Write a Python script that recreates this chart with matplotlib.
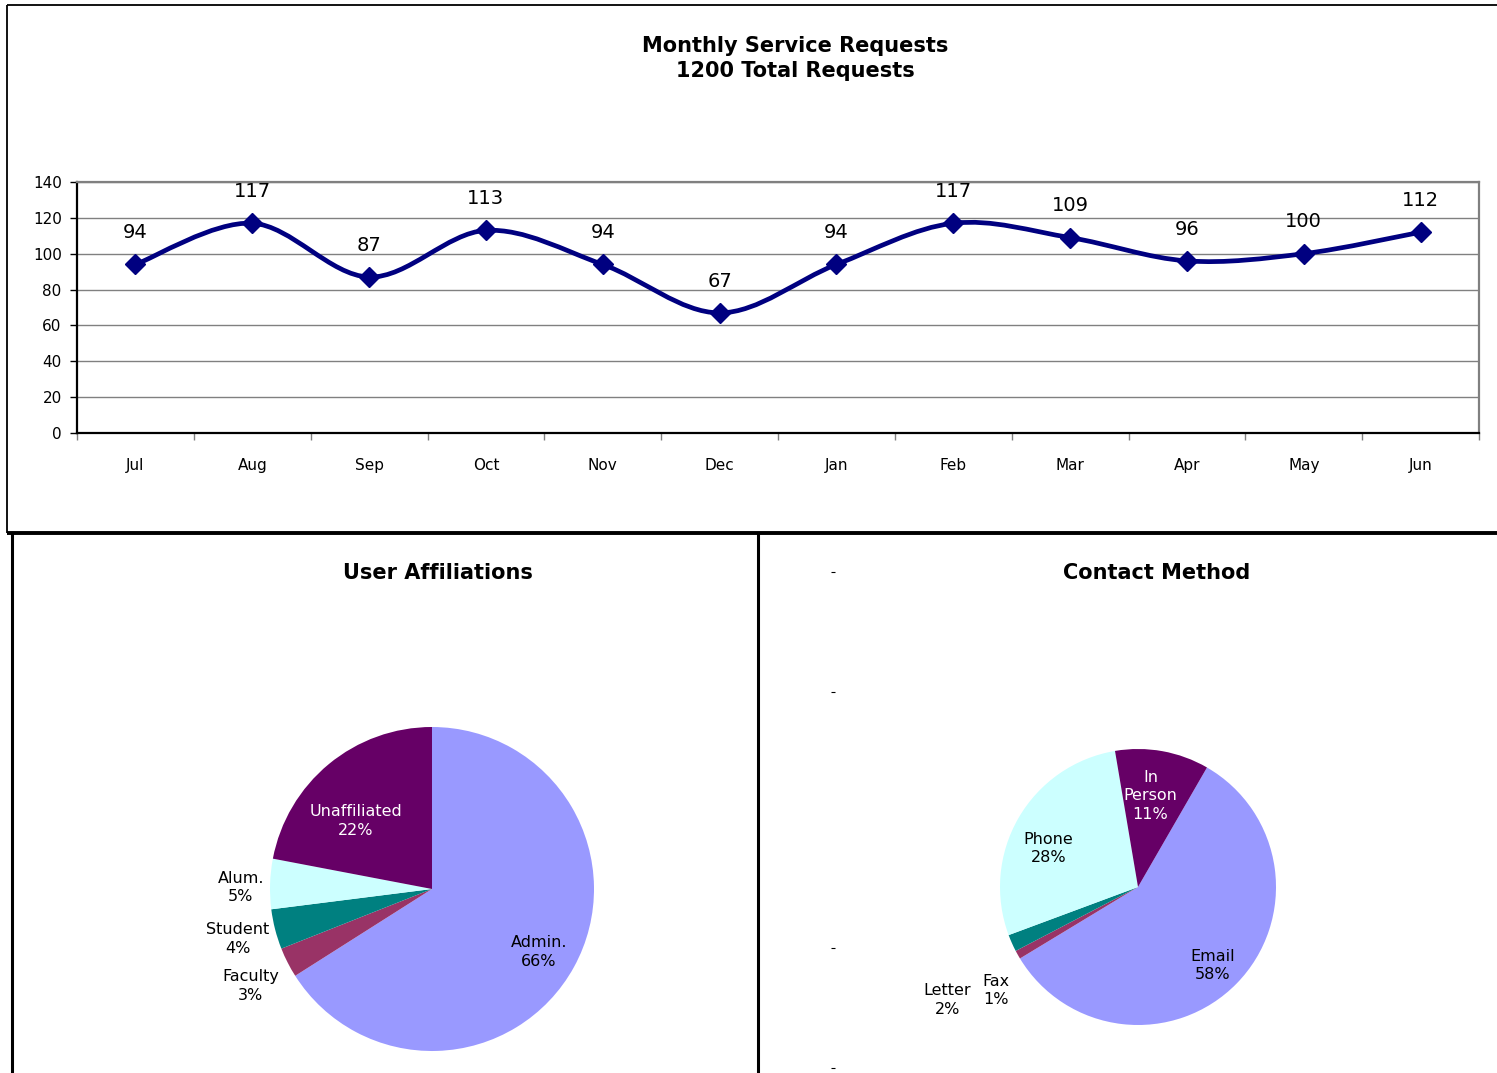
import numpy as np
import matplotlib
matplotlib.use("Agg")
import matplotlib.pyplot as plt
from matplotlib.lines import Line2D
from matplotlib.path import Path
from matplotlib.patches import PathPatch

# data
months = ['Jul', 'Aug', 'Sep', 'Oct', 'Nov', 'Dec', 'Jan', 'Feb', 'Mar', 'Apr', 'May', 'Jun']
requests = [94, 117, 87, 113, 94, 67, 94, 117, 109, 96, 100, 112]
total_requests = 1200

affil_labels = ['Admin.', 'Faculty', 'Student', 'Alum.', 'Unaffiliated']
affil_pct = [66, 3, 4, 5, 22]

contact_labels = ['Email', 'Fax', 'Letter', 'Phone', 'In\nPerson']
contact_pct = [58, 1, 2, 28, 11]

slice_colors = ['#9999FF', '#993366', '#008080', '#CCFFFF', '#660066']
affil_text_colors = ['black', 'black', 'black', 'black', 'white']
contact_text_colors = ['black', 'black', 'black', 'black', 'white']
# label positions (unit-circle coords)
affil_label_xy = [(0.66, -0.39), (-1.12, -0.60), (-1.20, -0.31), (-1.18, 0.01), (-0.47, 0.42)]
contact_label_xy = [(0.54, -0.57), (-1.03, -0.75), (-1.38, -0.82), (-0.65, 0.28), (0.09, 0.66)]

W, H = 1497, 1073
fig = plt.figure(figsize=(W / 100, H / 100), dpi=100)
plt.rcParams['font.family'] = 'DejaVu Sans'


def fx(x):
    return x / W


def fy(y):
    return 1 - y / H


def add_axes_px(x0, y0, x1, y1):
    return fig.add_axes([fx(x0), fy(y1), (x1 - x0) / W, (y1 - y0) / H])


def frame_line(xs, ys, lw):
    fig.add_artist(Line2D([fx(x) for x in xs], [fy(y) for y in ys], color='black',
                          lw=lw, transform=fig.transFigure, solid_capstyle='butt'))


# panel borders
frame_line([7, 1497], [5, 5], 1.3)
frame_line([7, 7], [5, 533], 1.3)
frame_line([7, 1497], [533, 533], 2.8)
frame_line([12, 12], [533, 1073], 2.2)
frame_line([758, 758], [533, 1073], 2.2)
for yy in [572, 692, 948, 1068]:
    frame_line([831, 835], [yy, yy], 0.8)

# ---- line chart ----
ax = add_axes_px(77, 182, 1479, 433)
x = np.arange(len(months))
y = np.array(requests, dtype=float)

# smoothed curve (Excel style bezier through the points)
verts = [(x[0], y[0])]
codes = [Path.MOVETO]
n = len(x)
for i in range(n - 1):
    p0 = np.array([x[max(i - 1, 0)], y[max(i - 1, 0)]])
    p1 = np.array([x[i], y[i]])
    p2 = np.array([x[i + 1], y[i + 1]])
    p3 = np.array([x[min(i + 2, n - 1)], y[min(i + 2, n - 1)]])
    c1 = p1 + (p2 - p0) / 6
    c2 = p2 - (p3 - p1) / 6
    verts += [tuple(c1), tuple(c2), tuple(p2)]
    codes += [Path.CURVE4] * 3
ax.add_patch(PathPatch(Path(verts, codes), fill=False, edgecolor='#000080', lw=3.4, zorder=3))
ax.plot(x, y, linestyle='none', marker='D', markersize=10, color='#000080', zorder=4)

for xi, yi in zip(x, requests):
    ax.annotate(str(yi), (xi, yi), xytext=(0, 16), textcoords='offset points',
                ha='center', va='bottom', fontsize=14)

ax.set_xlim(-0.5, len(months) - 0.5)
ax.set_ylim(0, 140)
ax.set_yticks(range(0, 141, 20))
ax.yaxis.grid(True, color='#808080', lw=1)
ax.set_axisbelow(True)
ax.set_xticks(np.arange(-0.5, len(months), 1))
ax.set_xticklabels([])
ax.set_xticks(x, minor=True)
ax.set_xticklabels(months, minor=True)
ax.tick_params(axis='x', which='major', direction='out', length=5, width=1, color='#808080')
ax.tick_params(axis='x', which='minor', length=0, pad=18, labelsize=11)
ax.tick_params(axis='y', direction='out', length=5, width=1, labelsize=11, pad=6)
for s in ['top', 'right']:
    ax.spines[s].set_color('#808080')
    ax.spines[s].set_linewidth(1.6)
for s in ['left', 'bottom']:
    ax.spines[s].set_color('black')
    ax.spines[s].set_linewidth(1.6)

fig.text(fx(795), fy(46), 'Monthly Service Requests', ha='center', va='center',
         fontsize=15, fontweight='bold')
fig.text(fx(795), fy(71), f'{total_requests} Total Requests', ha='center', va='center',
         fontsize=15, fontweight='bold')


# ---- pies ----
def draw_pie(cx, cy, r, pct, labels, startangle, label_xy, text_colors, title, tx):
    pax = add_axes_px(cx - r, cy - r, cx + r, cy + r)
    pax.pie(pct, colors=slice_colors, startangle=startangle, counterclock=False,
            radius=1, wedgeprops=dict(linewidth=0))
    pax.set_xlim(-1, 1)
    pax.set_ylim(-1, 1)
    pax.set_aspect('auto')
    pax.axis('off')
    for lab, p, (lx, ly), c in zip(labels, pct, label_xy, text_colors):
        pax.text(lx, ly, f'{lab}\n{p}%', ha='center', va='center', fontsize=11.5,
                 color=c, linespacing=1.3, clip_on=False)
    fig.text(fx(tx), fy(573), title, ha='center', va='center', fontsize=15,
             fontweight='bold')


draw_pie(432, 889, 162, affil_pct, affil_labels, 90, affil_label_xy,
         affil_text_colors, 'User Affiliations', 438)
draw_pie(1138, 887, 138, contact_pct, contact_labels, 60, contact_label_xy,
         contact_text_colors, 'Contact Method', 1157)

fig.savefig('out.png', dpi=100)
